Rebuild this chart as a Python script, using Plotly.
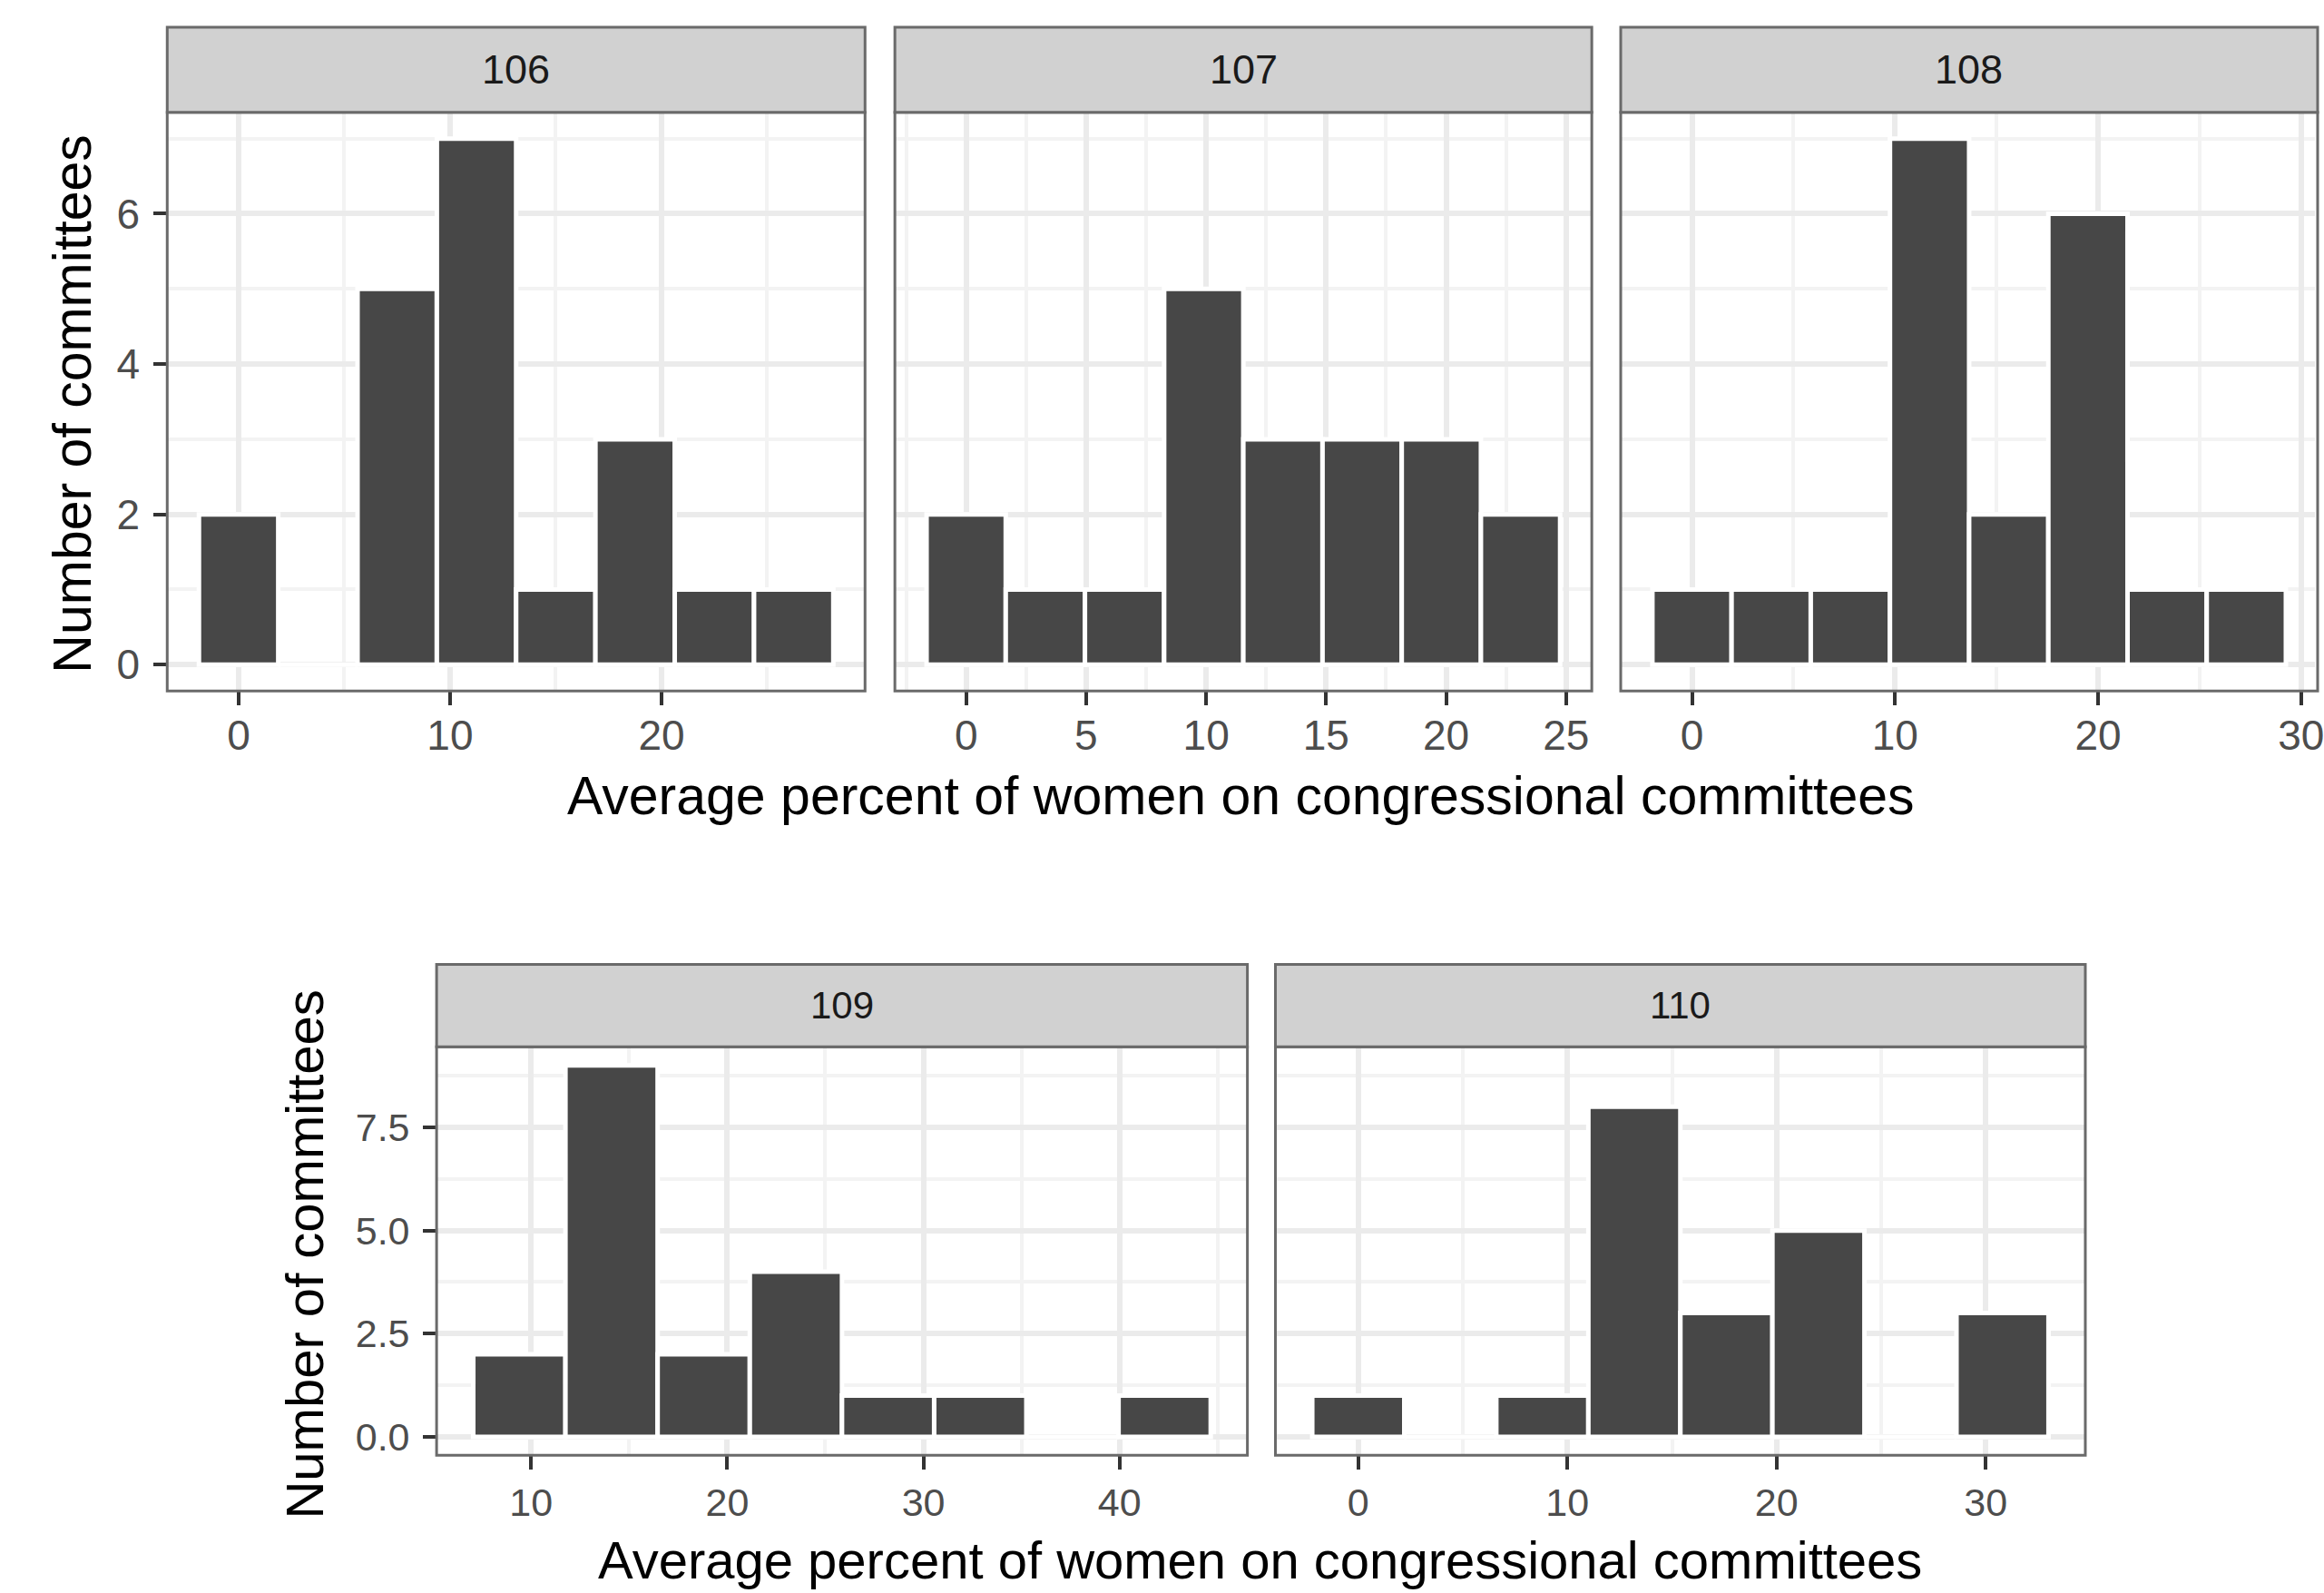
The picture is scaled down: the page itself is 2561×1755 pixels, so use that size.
import plotly.graph_objects as go

# ---------------- data (bin midpoints and counts per congress) ----------------
congresses = ["106", "107", "108", "109", "110"]

bins_106 = [0.0, 3.75, 7.5, 11.25, 15.0, 18.75, 22.5, 26.25]
counts_106 = [2, 0, 5, 7, 1, 3, 1, 1]

bins_107 = [0.0, 3.3, 6.6, 9.9, 13.2, 16.5, 19.8, 23.1]
counts_107 = [2, 1, 1, 5, 3, 3, 3, 2]

bins_108 = [0.0, 3.9, 7.8, 11.7, 15.6, 19.5, 23.4, 27.3]
counts_108 = [1, 1, 1, 7, 2, 6, 1, 1]

bins_109 = [9.4, 14.1, 18.8, 23.5, 28.2, 32.9, 37.6, 42.3]
counts_109 = [2, 9, 2, 4, 1, 1, 0, 1]

bins_110 = [0.0, 4.4, 8.8, 13.2, 17.6, 22.0, 26.4, 30.8]
counts_110 = [1, 0, 1, 8, 3, 5, 0, 3]

x_ticks_106 = [0, 10, 20]
x_ticks_107 = [0, 5, 10, 15, 20, 25]
x_ticks_108 = [0, 10, 20, 30]
x_ticks_109 = [10, 20, 30, 40]
x_ticks_110 = [0, 10, 20, 30]
y_ticks_top = [0, 2, 4, 6]
y_ticks_bottom = [0.0, 2.5, 5.0, 7.5]

x_title = "Average percent of women on congressional committees"
y_title = "Number of committees"

# ---------------- layout geometry (pixels) ----------------
W, H = 2561, 1755
FONT = "Liberation Sans, Arial, sans-serif"
BAR_FILL = "#474747"
GRID_MAJ = "#EBEBEB"
GRID_MIN = "#F3F3F3"
BORDER = "#6A6A6A"
STRIP_FILL = "#D1D1D1"
TICK_TXT = "#4D4D4D"


def fx(p):
    return p / W


def fy(p):
    return 1 - p / H


panels = [
    dict(name="106", bins=bins_106, counts=counts_106, xpx=(185, 957), ypx=(124, 763), strip=30,
         xr=[-3.375, 29.625], xt=x_ticks_106, mn=5, yr=[-0.35, 7.35], yt=y_ticks_top, ymn=1,
         showy=True, tickfs=46, bw=3.75, xso=-6),
    dict(name="107", bins=bins_107, counts=counts_107, xpx=(990, 1761), ypx=(124, 763), strip=30,
         xr=[-2.97, 26.07], xt=x_ticks_107, mn=2.5, yr=[-0.35, 7.35], yt=y_ticks_top, ymn=1,
         showy=False, tickfs=46, bw=3.3, xso=-6),
    dict(name="108", bins=bins_108, counts=counts_108, xpx=(1793, 2561), ypx=(124, 763), strip=30,
         xr=[-3.51, 30.68], xt=x_ticks_108, mn=5, yr=[-0.35, 7.35], yt=y_ticks_top, ymn=1,
         showy=False, tickfs=46, bw=3.9, right_ext=2564, xso=-6),
    dict(name="109", bins=bins_109, counts=counts_109, xpx=(483, 1380), ypx=(1156, 1607), strip=1065,
         xr=[5.18, 46.52], xt=x_ticks_109, mn=5, yr=[-0.45, 9.45], yt=y_ticks_bottom, ymn=1.25,
         showy=True, tickfs=43, bw=4.7, yfmt=".1f", xso=-1),
    dict(name="110", bins=bins_110, counts=counts_110, xpx=(1411, 2307), ypx=(1156, 1607), strip=1065,
         xr=[-3.96, 34.76], xt=x_ticks_110, mn=5, yr=[-0.45, 9.45], yt=y_ticks_bottom, ymn=1.25,
         showy=False, tickfs=43, bw=4.4, yfmt=".1f", xso=-1),
]

fig = go.Figure()
shapes = []
annotations = []
layout_axes = {}

for i, p in enumerate(panels, start=1):
    xa = "x" if i == 1 else f"x{i}"
    ya = "y" if i == 1 else f"y{i}"
    xkey = "xaxis" if i == 1 else f"xaxis{i}"
    ykey = "yaxis" if i == 1 else f"yaxis{i}"

    fig.add_trace(go.Bar(
        x=p["bins"], y=p["counts"], width=p["bw"],
        marker=dict(color=BAR_FILL, line=dict(color="white", width=5)),
        xaxis=xa, yaxis=ya, showlegend=False, hoverinfo="x+y",
    ))

    layout_axes[xkey] = dict(
        domain=[fx(p["xpx"][0]), min(1.0, fx(p["xpx"][1]))],
        anchor=ya, range=p["xr"], tickmode="array", tickvals=p["xt"],
        ticks="outside", ticklen=15, tickwidth=4, tickcolor="#333333",
        tickfont=dict(family=FONT, size=p["tickfs"], color=TICK_TXT),
        showgrid=True, gridcolor=GRID_MAJ, gridwidth=6, zeroline=False, showline=False,
        minor=dict(dtick=p["mn"], tick0=0, showgrid=True, gridcolor=GRID_MIN, gridwidth=3.5),
        fixedrange=True, ticklabelstandoff=p["xso"], ticklabeloverflow="allow",
    )
    yax = dict(
        domain=[fy(p["ypx"][1]), fy(p["ypx"][0])],
        anchor=xa, range=p["yr"], tickmode="array", tickvals=p["yt"],
        showticklabels=p["showy"], ticks="outside" if p["showy"] else "",
        ticklen=14, tickwidth=4, tickcolor="#333333",
        tickfont=dict(family=FONT, size=p["tickfs"], color=TICK_TXT),
        showgrid=True, gridcolor=GRID_MAJ, gridwidth=6, zeroline=False, showline=False,
        minor=dict(dtick=p["ymn"], tick0=0, showgrid=True, gridcolor=GRID_MIN, gridwidth=3.5),
        fixedrange=True, ticklabelstandoff=6,
    )
    if "yfmt" in p:
        yax["tickformat"] = p["yfmt"]
    layout_axes[ykey] = yax

    right = p.get("right_ext", p["xpx"][1])
    shapes.append(dict(type="rect", xref="paper", yref="paper",
                       x0=fx(p["xpx"][0]), x1=fx(right), y0=fy(p["ypx"][1]), y1=fy(p["ypx"][0]),
                       line=dict(color=BORDER, width=3), fillcolor="rgba(0,0,0,0)", layer="above"))
    shapes.append(dict(type="rect", xref="paper", yref="paper",
                       x0=fx(p["xpx"][0]), x1=fx(right), y0=fy(p["ypx"][0]), y1=fy(p["strip"]),
                       line=dict(color=BORDER, width=3), fillcolor=STRIP_FILL, layer="above"))
    annotations.append(dict(text=p["name"], xref="paper", yref="paper",
                            x=fx((p["xpx"][0] + right) / 2), y=fy((p["strip"] + p["ypx"][0]) / 2),
                            showarrow=False, xanchor="center", yanchor="middle",
                            font=dict(family=FONT, size=p["tickfs"] - 1, color="#1A1A1A")))

annotations += [
    dict(text=x_title, xref="paper", yref="paper", x=fx(1373), y=fy(879), showarrow=False,
         xanchor="center", yanchor="middle", font=dict(family=FONT, size=59, color="black")),
    dict(text=y_title, xref="paper", yref="paper", x=fx(80), y=fy(446), showarrow=False,
         textangle=-90, xanchor="center", yanchor="middle", font=dict(family=FONT, size=59, color="black")),
    dict(text=x_title, xref="paper", yref="paper", x=fx(1394), y=fy(1722), showarrow=False,
         xanchor="center", yanchor="middle", font=dict(family=FONT, size=58, color="black")),
    dict(text=y_title, xref="paper", yref="paper", x=fx(337), y=fy(1385), showarrow=False,
         textangle=-90, xanchor="center", yanchor="middle", font=dict(family=FONT, size=58, color="black")),
]

fig.update_layout(
    width=W, height=H, margin=dict(l=0, r=0, t=0, b=0),
    paper_bgcolor="white", plot_bgcolor="white",
    shapes=shapes, annotations=annotations, showlegend=False,
    **layout_axes,
)

fig.write_html(
    "out.html",
    config={"displayModeBar": False},
    post_script="document.body.style.margin='0';document.body.style.overflow='hidden';",
)
